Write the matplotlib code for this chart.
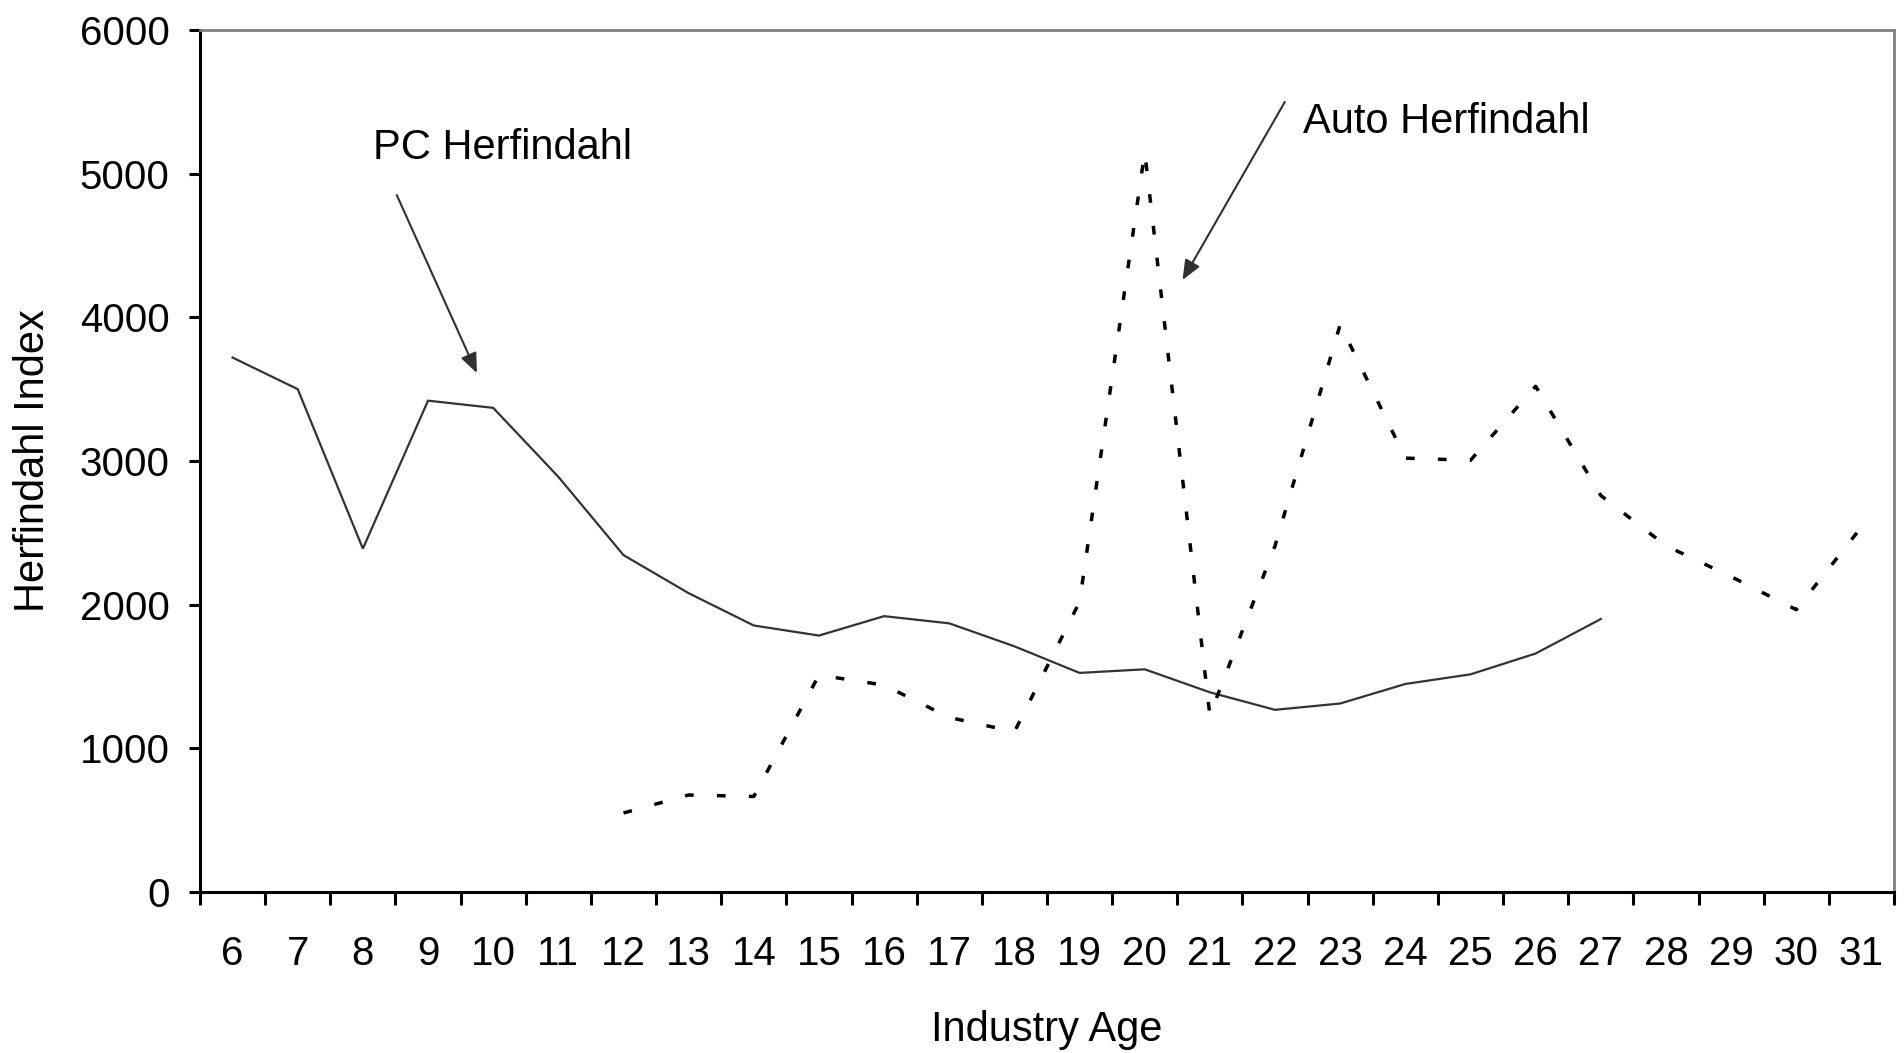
import numpy as np
import matplotlib
matplotlib.use('Agg')
import matplotlib.pyplot as plt

plt.rcParams['font.family'] = ['Liberation Sans', 'DejaVu Sans']

# industry age on the x axis (categories)
ages = list(range(6, 32))

# PC Herfindahl, ages 6-27
pc_ages = list(range(6, 28))
pc_herf = [3720, 3500, 2390, 3420, 3370, 2890, 2345, 2080, 1855, 1785, 1920,
           1870, 1710, 1525, 1550, 1390, 1268, 1312, 1448, 1515, 1660, 1900]

# Auto Herfindahl, ages 12-31
auto_ages = list(range(12, 32))
auto_herf = [550, 675, 665, 1510, 1440, 1215, 1115, 2020, 5150, 1230,
             2410, 3950, 3020, 3005, 3520, 2760, 2410, 2195, 1965, 2540]

yticks = [0, 1000, 2000, 3000, 4000, 5000, 6000]

fig = plt.figure(figsize=(19.04, 10.53), dpi=100)
ax = fig.add_axes([0.10504, 0.1529, 0.88971, 0.8186])

ax.plot(pc_ages, pc_herf, color='#333333', lw=1.6, solid_joinstyle='miter')
ax.plot(auto_ages, auto_herf, color='black', lw=2.5,
        linestyle=(0, (2.5, 6.7)), dash_capstyle='butt')

ax.set_xlim(ages[0] - 0.5, ages[-1] + 0.5)
ax.set_ylim(0, 6000)

# category labels centred, tick marks between categories
ax.set_xticks(ages)
ax.set_xticklabels([str(a) for a in ages])
ax.set_xticks([a - 0.5 for a in ages] + [ages[-1] + 0.5], minor=True)
ax.tick_params(axis='x', which='major', length=0, pad=31, labelsize=29)
ax.tick_params(axis='x', which='minor', length=9.5, width=2.2, direction='out')
ax.set_yticks(yticks)
ax.tick_params(axis='y', which='major', length=8, width=2.2, direction='out',
               pad=14, labelsize=29)

for side in ['left', 'bottom']:
    ax.spines[side].set_color('black')
    ax.spines[side].set_linewidth(2.2)
for side in ['top', 'right']:
    ax.spines[side].set_color('#808080')
    ax.spines[side].set_linewidth(2.0)

ax.set_xlabel('Industry Age', fontsize=30, va='top')
ax.xaxis.set_label_coords(0.5, -0.137)
ax.set_ylabel('Herfindahl Index', fontsize=30)
ax.yaxis.set_label_coords(-0.087, 0.5)

arrow = dict(arrowstyle='-|>,head_length=0.6,head_width=0.25',
             color='#303030', lw=1.5, shrinkA=0, shrinkB=0, mutation_scale=20)
ax.annotate('', xy=(9.75, 3612), xytext=(8.52, 4851), arrowprops=arrow)
ax.text(8.155, 5102, 'PC Herfindahl', fontsize=30, ha='left', va='baseline')

ax.annotate('', xy=(20.58, 4260), xytext=(22.15, 5499), arrowprops=arrow)
ax.text(22.43, 5283, 'Auto Herfindahl', fontsize=30, ha='left', va='baseline')

fig.savefig('out.png', dpi=100)
